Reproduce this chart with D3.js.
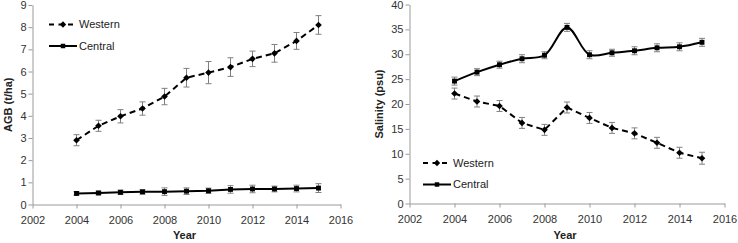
<!DOCTYPE html>
<html>
<head>
<meta charset="utf-8">
<script src="https://cdn.jsdelivr.net/npm/d3@7"></script>
<style>
  body { margin: 0; background: #fff; }
  svg { display: block; }
</style>
</head>
<body>
<svg id="chart" width="738" height="243"></svg>
<script>
// data
const years = [2004, 2005, 2006, 2007, 2008, 2009, 2010, 2011, 2012, 2013, 2014, 2015]
const yearTicks = [2002, 2004, 2006, 2008, 2010, 2012, 2014, 2016]

const agbWestern = [2.9, 3.55, 3.98, 4.33, 4.87, 5.72, 5.95, 6.2, 6.57, 6.82, 7.38, 8.1]
const agbWesternErr = [0.25, 0.25, 0.3, 0.3, 0.37, 0.42, 0.5, 0.42, 0.35, 0.4, 0.38, 0.42]
const agbCentral = [0.5, 0.52, 0.55, 0.57, 0.58, 0.6, 0.62, 0.68, 0.7, 0.7, 0.72, 0.74]
const agbCentralErr = [0.08, 0.08, 0.1, 0.1, 0.17, 0.15, 0.12, 0.17, 0.17, 0.13, 0.15, 0.2]
const agbTicks = [0, 1, 2, 3, 4, 5, 6, 7, 8, 9]

const salWestern = [22.1, 20.5, 19.6, 16.2, 14.8, 19.3, 17.2, 15.2, 14.1, 12.2, 10.2, 9.1]
const salWesternErr = [1.1, 1.1, 1.1, 1.1, 1.1, 1.1, 1.1, 1.1, 1.1, 1.1, 1.1, 1.2]
const salCentral = [24.6, 26.4, 27.9, 29.1, 29.8, 35.4, 29.9, 30.3, 30.7, 31.3, 31.5, 32.4]
const salCentralErr = [0.8, 0.7, 0.7, 0.8, 0.7, 0.8, 0.8, 0.7, 0.8, 0.8, 0.8, 0.8]
const salTicks = [0, 5, 10, 15, 20, 25, 30, 35, 40]

const svg = d3.select("#chart")
const FONT = "'Liberation Sans', Arial, sans-serif"

function drawPanel(opt) {
    const x = d3.scaleLinear().domain([2002, 2016]).range([opt.left, opt.right])
    const y = d3.scaleLinear().domain(opt.yDomain).range([opt.bottom, opt.top])
    const g = svg.append("g")

    // axes
    const xAxis = g.append("g")
        .attr("transform", "translate(0," + opt.bottom + ")")
        .call(d3.axisBottom(x).tickValues(yearTicks).tickFormat(d3.format("d")).tickSize(4).tickSizeOuter(0))
    const yAxis = g.append("g")
        .attr("transform", "translate(" + opt.left + ",0)")
        .call(d3.axisLeft(y).tickValues(opt.yTicks).tickSize(4).tickSizeOuter(0))
    ;[xAxis, yAxis].forEach(a => {
        a.select(".domain").attr("stroke", "#9a9a9a")
        a.selectAll(".tick line").attr("stroke", "#9a9a9a")
        a.selectAll(".tick text").attr("fill", "#333").style("font-family", FONT).style("font-size", "11px")
    })
    xAxis.selectAll(".tick text").attr("dy", "1.1em")
    yAxis.selectAll(".tick text").attr("x", -6)

    // titles
    g.append("text")
        .attr("x", (opt.left + opt.right) / 2 - 2).attr("y", 239)
        .attr("text-anchor", "middle")
        .style("font-family", FONT).style("font-size", "11px").style("font-weight", "bold")
        .attr("fill", "#222")
        .text("Year")
    g.append("text")
        .attr("transform", "translate(" + opt.titleX + "," + (opt.top + opt.bottom) / 2 + ") rotate(-90)")
        .attr("text-anchor", "middle")
        .attr("dy", "0.35em")
        .style("font-family", FONT).style("font-size", "11px").style("font-weight", "bold")
        .attr("fill", "#222")
        .text(opt.yTitle)

    opt.series.forEach(s => {
        const pts = years.map((yr, i) => ({ yr: yr, v: s.values[i], e: s.err[i] }))
        const line = d3.line().x(d => x(d.yr)).y(d => y(d.v)).curve(s.curve || d3.curveLinear)

        // error bars
        const eb = g.append("g").attr("stroke", "#808080").attr("stroke-width", 1)
        eb.selectAll(".v").data(pts).enter().append("line")
            .attr("x1", d => x(d.yr)).attr("x2", d => x(d.yr))
            .attr("y1", d => y(d.v - d.e)).attr("y2", d => y(d.v + d.e))
        eb.selectAll(".t").data(pts).enter().append("line")
            .attr("x1", d => x(d.yr) - 3).attr("x2", d => x(d.yr) + 3)
            .attr("y1", d => y(d.v + d.e)).attr("y2", d => y(d.v + d.e))
        eb.selectAll(".b").data(pts).enter().append("line")
            .attr("x1", d => x(d.yr) - 3).attr("x2", d => x(d.yr) + 3)
            .attr("y1", d => y(d.v - d.e)).attr("y2", d => y(d.v - d.e))

        g.append("path")
            .attr("d", line(pts))
            .attr("fill", "none")
            .attr("stroke", "#000")
            .attr("stroke-width", 2)
            .attr("stroke-dasharray", s.dashed ? "6,4" : null)

        const sym = d3.symbol().type(s.dashed ? d3.symbolDiamond2 : d3.symbolSquare).size(s.dashed ? 28 : 24)
        g.selectAll(null).data(pts).enter().append("path")
            .attr("d", sym)
            .attr("transform", d => "translate(" + x(d.yr) + "," + y(d.v) + ")")
            .attr("fill", "#000")
    })

    // legend
    opt.series.forEach((s, i) => {
        const ly = opt.legendY + i * 21.5
        const lx = opt.legendX
        g.append("line")
            .attr("x1", lx).attr("x2", lx + 28).attr("y1", ly).attr("y2", ly)
            .attr("stroke", "#000").attr("stroke-width", 2)
            .attr("stroke-dasharray", s.dashed ? "5,4.5" : null)
        const sym = d3.symbol().type(s.dashed ? d3.symbolDiamond2 : d3.symbolSquare).size(s.dashed ? 26 : 20)
        g.append("path").attr("d", sym).attr("transform", "translate(" + (lx + 14) + "," + ly + ")")
        g.append("text")
            .attr("x", lx + 30).attr("y", ly).attr("dy", "0.35em")
            .style("font-family", FONT).style("font-size", "11px")
            .attr("fill", "#222")
            .text(s.name)
    })
}

drawPanel({
    left: 32.5, right: 340.5, top: 5, bottom: 204.5,
    yDomain: [0, 9], yTicks: agbTicks, yTitle: "AGB (t/ha)", titleX: 8,
    legendX: 49, legendY: 24.5,
    series: [
        { name: "Western", values: agbWestern, err: agbWesternErr, dashed: true },
        { name: "Central", values: agbCentral, err: agbCentralErr, dashed: false }
    ]
})

drawPanel({
    left: 409.5, right: 724.5, top: 4.5, bottom: 203.5,
    yDomain: [0, 40], yTicks: salTicks, yTitle: "Salinity (psu)", titleX: 379,
    legendX: 423, legendY: 163,
    series: [
        { name: "Western", values: salWestern, err: salWesternErr, dashed: true },
        { name: "Central", values: salCentral, err: salCentralErr, dashed: false, curve: d3.curveCatmullRom.alpha(0.5) }
    ]
})
</script>
</body>
</html>
